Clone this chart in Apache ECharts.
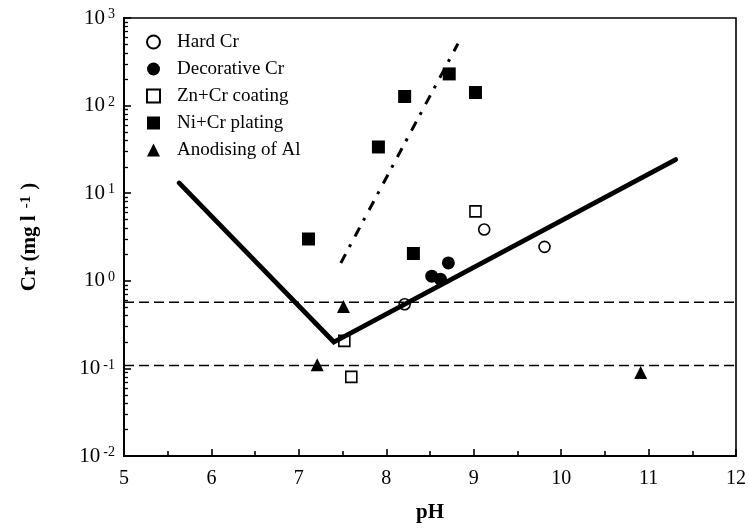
<!DOCTYPE html>
<html>
<head>
<meta charset="utf-8">
<script src="https://cdn.jsdelivr.net/npm/echarts@6/dist/echarts.min.js"></script>
<style>
  html, body { margin: 0; padding: 0; background: #fff; }
  #chart { width: 749px; height: 528px; }
</style>
</head>
<body>
<div id="chart"></div>
<script>
// Cr concentration vs. pH for different plating effluents
const hardCrPh = [8.21, 9.12, 9.81];
const hardCrVal = [0.54, 3.85, 2.44];

const decoCrPh = [8.52, 8.62, 8.71];
const decoCrVal = [1.13, 1.04, 1.6];

const znCrPh = [7.52, 7.60, 9.02];
const znCrVal = [0.206, 0.08, 6.2];

const niCrPh = [7.11, 7.91, 8.21, 8.31, 8.72, 9.02];
const niCrVal = [3.0, 33.7, 127, 2.05, 230, 141];

const anodPh = [7.21, 7.51, 10.91];
const anodVal = [0.11, 0.51, 0.09];

// solubility curve (V shape) and steep dash-dot trend
const vCurvePh = [5.63, 7.40, 11.31];
const vCurveVal = [13.1, 0.2, 24.2];
const trendPh = [7.48, 8.82];
const trendVal = [1.6, 510];

// horizontal limit levels
const limitLevels = [0.57, 0.108];

const xTicks = [5, 6, 7, 8, 9, 10, 11, 12];
const yDecades = [0.01, 0.1, 1, 10, 100, 1000];
const yMinor = [];
yDecades.slice(0, -1).forEach(d => { for (let k = 2; k <= 9; k++) yMinor.push(+(d * k).toPrecision(3)); });

const serif = '"Liberation Serif", "Times New Roman", serif';

const pairs = (xs, ys) => xs.map((x, i) => [x, ys[i]]);

const openStyle = { color: 'rgba(255,255,255,0)', borderColor: '#000', borderWidth: 1.6, opacity: 1 };
const fillStyle = { color: '#000', borderWidth: 0, opacity: 1 };

const series = [];
limitLevels.forEach(lvl => {
  series.push({
    type: 'line', data: [[xTicks[0], lvl], [xTicks[xTicks.length - 1], lvl]],
    symbol: 'none', silent: true, z: 1,
    lineStyle: { color: '#000', width: 1.6, type: [10, 5] }
  });
});
series.push({
  type: 'line', data: pairs(vCurvePh, vCurveVal), symbol: 'none', z: 3,
  lineStyle: { color: '#000', width: 4.8, cap: 'round', join: 'miter' }
});
series.push({
  type: 'line', data: pairs(trendPh, trendVal), symbol: 'none', z: 3,
  lineStyle: { color: '#000', width: 3, type: [10, 8, 3, 9] }
});
series.push(
  { name: 'Hard Cr', type: 'scatter', data: pairs(hardCrPh, hardCrVal), symbol: 'circle', symbolSize: 11, itemStyle: openStyle, z: 4 },
  { name: 'Decorative Cr', type: 'scatter', data: pairs(decoCrPh, decoCrVal), symbol: 'circle', symbolSize: 13, itemStyle: fillStyle, z: 4 },
  { name: 'Zn+Cr coating', type: 'scatter', data: pairs(znCrPh, znCrVal), symbol: 'rect', symbolSize: 11, itemStyle: openStyle, z: 4 },
  { name: 'Ni+Cr plating', type: 'scatter', data: pairs(niCrPh, niCrVal), symbol: 'rect', symbolSize: 13, itemStyle: fillStyle, z: 4 },
  { name: 'Anodising of Al', type: 'scatter', data: pairs(anodPh, anodVal), symbol: 'triangle', symbolSize: 13, itemStyle: fillStyle, z: 4 }
);

const supRich = {
  b: { fontFamily: serif, fontSize: 21, color: '#000' },
  s: { fontFamily: serif, fontSize: 14, color: '#000', verticalAlign: 'top', padding: [0, 0, 0, 3] }
};

const chart = echarts.init(document.getElementById('chart'), null, { renderer: 'canvas' });
chart.setOption({
  backgroundColor: '#fff',
  animation: false,
  grid: { left: 124, right: 12, top: 18, bottom: 70, show: true, borderColor: '#000', borderWidth: 1.6, backgroundColor: 'transparent' },
  legend: {
    orient: 'vertical', left: 141, top: 27,
    itemWidth: 13, itemHeight: 13, itemGap: 7,
    data: [
      { name: 'Hard Cr', icon: 'circle' },
      { name: 'Decorative Cr', icon: 'circle' },
      { name: 'Zn+Cr coating', icon: 'rect' },
      { name: 'Ni+Cr plating', icon: 'rect' },
      { name: 'Anodising of Al', icon: 'triangle' }
    ],
    selectedMode: false,
    itemStyle: { opacity: 1 },
    textStyle: { fontFamily: serif, fontSize: 19, color: '#000', lineHeight: 20, padding: [0, 0, 0, 12] }
  },
  xAxis: {
    type: 'value', min: 5, max: 12, interval: 1,
    name: 'pH', nameLocation: 'middle', nameGap: 46,
    nameTextStyle: { fontFamily: serif, fontSize: 21, fontWeight: 'bold', color: '#000' },
    axisLine: { lineStyle: { color: '#000', width: 2 } },
    axisTick: { inside: true, length: 7, lineStyle: { color: '#000', width: 1.6 } },
    minorTick: { show: true, splitNumber: 2, length: 5, lineStyle: { color: '#000', width: 1.6 } },
    splitLine: { show: false },
    axisLabel: { fontFamily: serif, fontSize: 20, color: '#000', margin: 13 }
  },
  yAxis: [
    {
      type: 'log', logBase: 10, min: 0.01, max: 1000, interval: 1,
      name: '{n|Cr (mg l}{s|-1}{n|)}', nameLocation: 'middle', nameGap: 84,
      nameTextStyle: {
        rich: {
          n: { fontFamily: serif, fontSize: 21, fontWeight: 'bold', color: '#000' },
          s: { fontFamily: serif, fontSize: 15, fontWeight: 'bold', color: '#000', verticalAlign: 'top', padding: [0, 6, 0, 7] }
        }
      },
      axisLine: { show: true, lineStyle: { color: '#000', width: 2 } },
      axisTick: { inside: true, length: 7, lineStyle: { color: '#000', width: 1.6 } },
      splitLine: { show: false },
      axisLabel: {
        margin: 9,
        formatter: v => '{b|10}{s|' + Math.round(Math.log10(v)) + '}',
        rich: supRich
      }
    },
    {
      type: 'log', logBase: 10, min: 0.01, max: 1000, position: 'left',
      axisLine: { show: false },
      axisLabel: { show: false },
      splitLine: { show: false },
      axisTick: { show: true, inside: true, length: 4, customValues: yMinor, lineStyle: { color: '#000', width: 1.3 } }
    }
  ],
  series: series
});
</script>
</body>
</html>
